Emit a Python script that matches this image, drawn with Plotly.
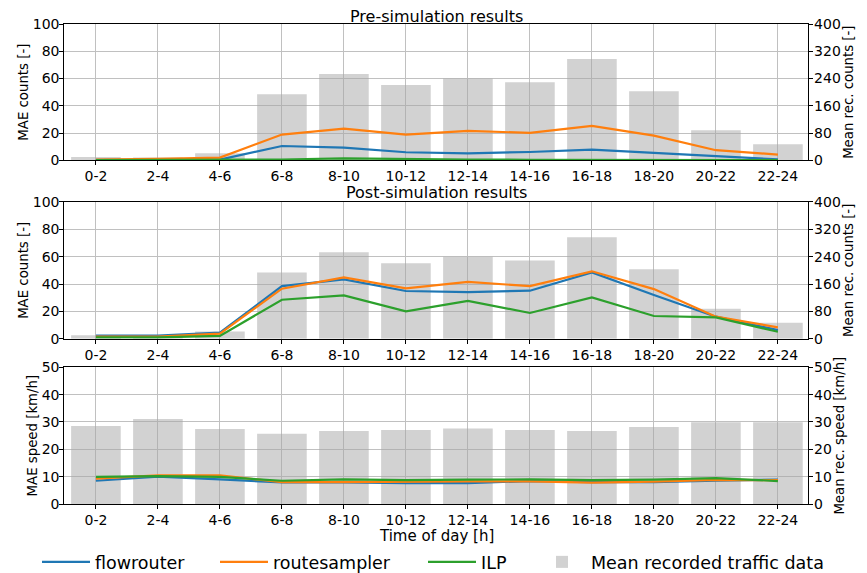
import plotly.graph_objects as go

categories = ["0-2", "2-4", "4-6", "6-8", "8-10", "10-12", "12-14", "14-16", "16-18", "18-20", "20-22", "22-24"]

# Mean recorded traffic counts (right axis, panels 1 and 2)
mean_counts = [10, 8, 21, 194, 253, 221, 240, 229, 297, 203, 88, 47]
# Mean recorded speed (right axis, panel 3)
mean_speed = [28.5, 31.1, 27.4, 25.7, 26.7, 27.1, 27.6, 27.1, 26.7, 28.2, 29.9, 29.9]

# Pre-simulation MAE counts
pre_flowrouter = [0.3, 0.4, 0.5, 10.5, 9.3, 5.9, 5.1, 6.1, 7.8, 5.4, 2.9, 0.7]
pre_routesampler = [0.6, 1.0, 2.0, 18.9, 23.3, 18.9, 21.6, 20.1, 25.2, 18.1, 7.4, 4.2]
pre_ilp = [0.1, 0.1, 0.2, 0.6, 1.4, 0.8, 0.5, 0.4, 0.4, 0.3, 0.2, 0.1]

# Post-simulation MAE counts
post_flowrouter = [2.2, 2.2, 4.4, 38.5, 43.4, 34.9, 34.1, 35.1, 48.5, 32.0, 16.1, 6.3]
post_routesampler = [1.5, 1.5, 3.7, 36.6, 44.9, 36.8, 41.5, 38.5, 49.3, 36.3, 16.1, 8.3]
post_ilp = [1.0, 1.0, 2.0, 28.5, 31.7, 20.0, 27.6, 18.8, 30.2, 16.6, 15.6, 5.1]

# MAE speed
spd_flowrouter = [8.5, 10.0, 9.0, 7.9, 7.9, 7.6, 7.6, 8.4, 8.0, 8.0, 8.5, 8.9]
spd_routesampler = [9.3, 10.5, 10.5, 8.0, 8.0, 8.2, 8.3, 8.3, 7.8, 8.2, 8.8, 8.7]
spd_ilp = [9.9, 10.2, 9.9, 8.5, 9.0, 8.7, 8.9, 9.0, 8.7, 8.9, 9.5, 8.4]

series_names = ["flowrouter", "routesampler", "ILP"]
colors = ["#1f77b4", "#ff7f0e", "#2ca02c"]
bar_name = "Mean recorded traffic data"
x_title = "Time of day [h]"

# figure is rendered inside the page body (8 px offset); size chosen so it fits the window
W, H = 859, 565

panels = [
    dict(bars=mean_counts, lines=[pre_flowrouter, pre_routesampler, pre_ilp],
         left=(0, 100, 20), right=(0, 400, 80),
         ltitle="MAE counts [-]", rtitle="Mean rec. counts [-]", dom=[0.73044, 0.97168]),
    dict(bars=mean_counts, lines=[post_flowrouter, post_routesampler, post_ilp],
         left=(0, 100, 20), right=(0, 400, 80),
         ltitle="MAE counts [-]", rtitle="Mean rec. counts [-]", dom=[0.41469, 0.65664]),
    dict(bars=mean_speed, lines=[spd_flowrouter, spd_routesampler, spd_ilp],
         left=(0, 50, 10), right=(0, 50, 10),
         ltitle="MAE speed [km/h]", rtitle="Mean rec. speed [km/h]", dom=[0.12212, 0.36407]),
]

FONT = "DejaVu Sans"
fig = go.Figure()
layout = {}
for k, p in enumerate(panels, start=1):
    xa = "x" if k == 1 else f"x{k}"
    yb_i, yl_i = 2 * k - 1, 2 * k
    yb = "y" if yb_i == 1 else f"y{yb_i}"
    yl = f"y{yl_i}"
    fig.add_trace(go.Bar(x=categories, y=p["bars"], width=0.8, xaxis=xa, yaxis=yb,
                         marker=dict(color="rgba(166,166,166,0.5)", line=dict(width=0)),
                         name=bar_name, showlegend=(k == 1), legend="legend4"))
    for i, (vals, nm, c) in enumerate(zip(p["lines"], series_names, colors)):
        fig.add_trace(go.Scatter(x=categories, y=vals, mode="lines", xaxis=xa, yaxis=yl,
                                 line=dict(color=c, width=2.2), name=nm,
                                 showlegend=(k == 1),
                                 legend="legend" if i == 0 else f"legend{i + 1}"))
    xkey = "xaxis" if k == 1 else f"xaxis{k}"
    ybkey = "yaxis" if yb_i == 1 else f"yaxis{yb_i}"
    ylkey = f"yaxis{yl_i}"
    layout[xkey] = dict(domain=[0.06554, 0.93166], anchor=yb, type="category",
                        range=[-0.51, 11.49], showline=True, mirror=True, linecolor="black",
                        linewidth=1, ticks="outside", ticklen=4, tickcolor="black",
                        showgrid=True, gridcolor="#c0c0c0", gridwidth=1, automargin=False,
                        ticklabelstandoff=-1,
                        tickfont=dict(family=FONT, size=14, color="black"))
    lo, hi, st = p["right"]
    layout[ybkey] = dict(domain=p["dom"], anchor=xa, side="right", range=[lo, hi],
                         tickvals=list(range(lo, hi + 1, st)), showgrid=False,
                         showline=True, mirror=True, linecolor="black", linewidth=1,
                         ticks="outside", ticklen=4, tickcolor="black", zeroline=False,
                         automargin=False, ticklabelstandoff=-2,
                         tickfont=dict(family=FONT, size=14, color="black"),
                         title=dict(text=p["rtitle"], font=dict(family=FONT, size=13.3, color="black"), standoff=0))
    lo, hi, st = p["left"]
    layout[ylkey] = dict(overlaying=yb, anchor=xa, side="left", range=[lo, hi],
                         tickvals=list(range(lo, hi + 1, st)), showgrid=True,
                         gridcolor="#c0c0c0", gridwidth=1, zeroline=False,
                         showline=True, linecolor="black", linewidth=1,
                         ticks="outside", ticklen=4, tickcolor="black", automargin=False,
                         ticklabelstandoff=-3,
                         tickfont=dict(family=FONT, size=14, color="black"),
                         title=dict(text=p["ltitle"], font=dict(family=FONT, size=13.3, color="black"), standoff=1))

leg_common = dict(orientation="h", yanchor="middle", y=1 - 554 / H, xanchor="left",
                  xref="container", yref="container",
                  font=dict(family=FONT, size=17.5, color="black"), bgcolor="rgba(0,0,0,0)",
                  borderwidth=0, itemwidth=48)
layout["legend"] = dict(leg_common, x=29 / W)
layout["legend2"] = dict(leg_common, x=207 / W)
layout["legend3"] = dict(leg_common, x=415 / W)
layout["legend4"] = dict(leg_common, x=525 / W)

fig.update_layout(
    width=W, height=H,
    margin=dict(l=0, r=0, t=0, b=0, autoexpand=False),
    plot_bgcolor="white", paper_bgcolor="white",
    font=dict(family=FONT, color="black"),
    barmode="overlay",
    annotations=[
        dict(text="Pre-simulation results", x=0.4986, y=1 - 9 / H, xref="paper", yref="paper",
             xanchor="center", yanchor="middle", showarrow=False,
             font=dict(family=FONT, size=16, color="black")),
        dict(text="Post-simulation results", x=0.4986, y=1 - 184 / H, xref="paper", yref="paper",
             xanchor="center", yanchor="middle", showarrow=False,
             font=dict(family=FONT, size=16, color="black")),
        dict(text=x_title, x=0.4986, y=1 - 527.5 / H, xref="paper", yref="paper",
             xanchor="center", yanchor="middle", showarrow=False,
             font=dict(family=FONT, size=15, color="black")),
    ],
    **layout,
)

fig.write_html("out.html")
